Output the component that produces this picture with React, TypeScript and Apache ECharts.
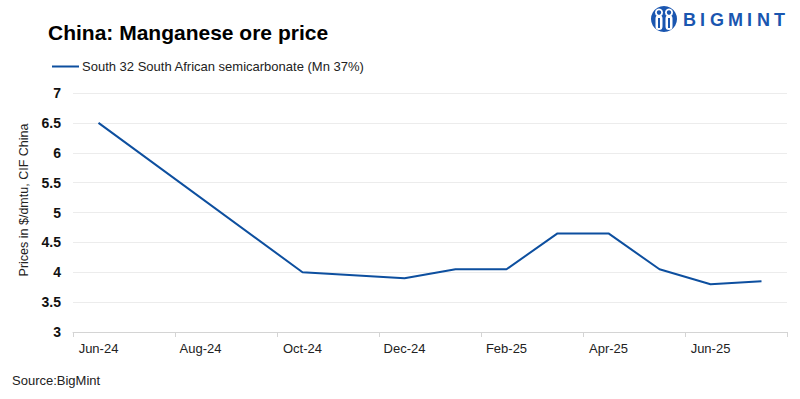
import React, { useEffect, useRef } from "react";
import * as echarts from "echarts";

const categories = ["Jun-24", "Jul-24", "Aug-24", "Sep-24", "Oct-24", "Nov-24", "Dec-24", "Jan-25", "Feb-25", "Mar-25", "Apr-25", "May-25", "Jun-25", "Jul-25"];
const seriesName = "South 32 South African semicarbonate (Mn 37%)";
const prices: (number | null)[] = [6.5, null, null, null, 4.0, null, 3.9, 4.05, 4.05, 4.65, 4.65, 4.05, 3.8, 3.85];
const yTicks = { min: 3, max: 7, interval: 0.5 };
const yAxisTitle = "Prices in $/dmtu, CIF China";
const logoLetters = ["B", "I", "G", "M", "I", "N", "T"];
const logoLetterX = [683, 700, 710, 728, 747, 757, 774];

const BLUE = "#0d4f9f";
const LOGO_BLUE = "#1a56b0";
const FONT = "'Liberation Sans', Arial, sans-serif";

export default function App() {
  const ref = useRef<HTMLDivElement>(null);
  useEffect(() => {
    if (!ref.current) return;
    const chart = echarts.init(ref.current, null, { renderer: "svg" });
    const logoGraphics: any[] = [
      { type: "circle", shape: { cx: 664, cy: 19, r: 13 }, style: { fill: LOGO_BLUE } },
      { type: "rect", shape: { x: 655.5, y: 15, width: 7, height: 15, r: 3.5 }, style: { fill: "#fff" } },
      { type: "rect", shape: { x: 665.5, y: 15, width: 7, height: 15, r: 3.5 }, style: { fill: "#fff" } },
      { type: "circle", shape: { cx: 659, cy: 12.5, r: 4 }, style: { fill: "#fff" } },
      { type: "circle", shape: { cx: 669, cy: 12.5, r: 4 }, style: { fill: "#fff" } },
      { type: "circle", shape: { cx: 659, cy: 12.5, r: 2.2 }, style: { fill: LOGO_BLUE } },
      { type: "circle", shape: { cx: 669, cy: 12.5, r: 2.2 }, style: { fill: LOGO_BLUE } },
      { type: "rect", shape: { x: 658, y: 18, width: 2, height: 10 }, style: { fill: LOGO_BLUE } },
      { type: "rect", shape: { x: 668, y: 18, width: 2, height: 10 }, style: { fill: LOGO_BLUE } },
      ...logoLetters.map((ch, i) => ({
        type: "text",
        x: logoLetterX[i],
        y: 11,
        style: { text: ch, fill: LOGO_BLUE, font: `bold 18px ${FONT}` },
      })),
    ];
    chart.setOption({
      animation: false,
      backgroundColor: "#ffffff",
      title: {
        text: "China: Manganese ore price",
        left: 43,
        top: 17,
        textStyle: { fontFamily: FONT, fontSize: 21, fontWeight: "bold", color: "#000" },
      },
      legend: {
        left: 47,
        top: 55,
        icon: "rect",
        itemWidth: 27,
        itemHeight: 2,
        itemGap: 10,
        textStyle: { fontFamily: FONT, fontSize: 13, color: "#222", padding: [0, 0, 0, -2] },
        data: [seriesName],
      },
      grid: { left: 73, right: 13, top: 93, bottom: 67 },
      xAxis: {
        type: "category",
        data: categories,
        boundaryGap: true,
        axisLine: { lineStyle: { color: "#d4d4d4" } },
        axisTick: { show: true, interval: 1, length: 5, lineStyle: { color: "#d4d4d4" } },
        axisLabel: { interval: 1, margin: 10, fontFamily: FONT, fontSize: 13, color: "#222" },
        splitLine: { show: false },
      },
      yAxis: {
        type: "value",
        min: yTicks.min,
        max: yTicks.max,
        interval: yTicks.interval,
        axisLine: { show: false },
        axisTick: { show: false },
        axisLabel: { margin: 12, fontFamily: FONT, fontSize: 14, fontWeight: "bold", color: "#111" },
        splitLine: { lineStyle: { color: "#ececec" } },
      },
      series: [
        {
          name: seriesName,
          type: "line",
          data: prices,
          connectNulls: true,
          showSymbol: false,
          symbol: "none",
          lineStyle: { color: BLUE, width: 2 },
          itemStyle: { color: BLUE },
        },
      ],
      graphic: [
        {
          type: "text",
          x: 24,
          y: 200,
          rotation: Math.PI / 2,
          style: {
            text: yAxisTitle,
            fill: "#222",
            font: `12.5px ${FONT}`,
            align: "center",
            verticalAlign: "middle",
          },
        },
        {
          type: "text",
          left: 12,
          top: 374,
          style: { text: "Source:BigMint", fill: "#222", font: `13px ${FONT}` },
        },
        ...logoGraphics,
      ],
    });
    return () => chart.dispose();
  }, []);
  return <div ref={ref} style={{ width: 800, height: 399, position: "absolute", left: 0, top: 0 }} />;
}
